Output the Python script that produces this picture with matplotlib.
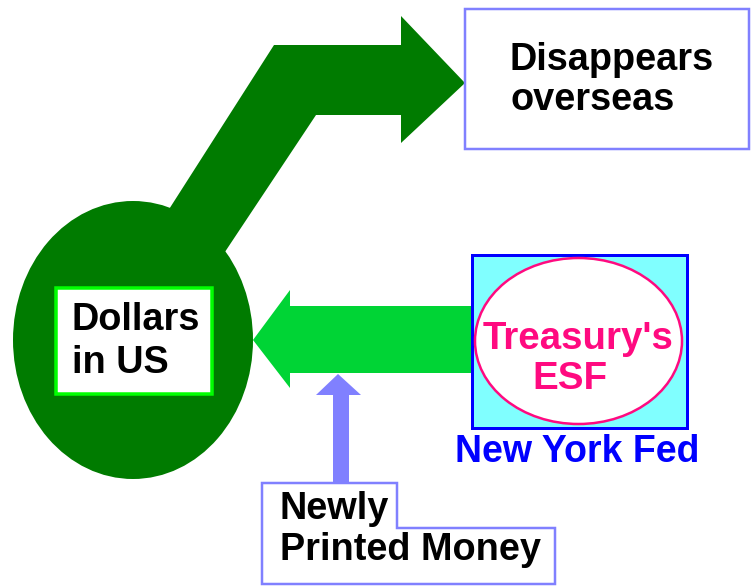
import matplotlib
matplotlib.use("Agg")
import matplotlib.pyplot as plt
from matplotlib.patches import Polygon, Ellipse, Rectangle

# ---- diagram geometry (pixel coordinates, y grows downward) ----
big_arrow = [(111, 300), (274, 45), (401, 45), (401, 16), (465, 83),
             (401, 143), (401, 115), (316, 115), (193, 300)]
us_ellipse = (133, 340, 240, 278)          # cx, cy, width, height
green_arrow = [(253, 340), (290, 290), (290, 306), (474, 306),
               (474, 373), (290, 373), (290, 388)]
blue_arrow = [(338, 374), (361, 395), (349, 395), (349, 483),
              (333, 483), (333, 395), (316, 395)]
fed_box = (472, 255, 215, 173)             # x, y, w, h
esf_ellipse = (578.5, 341, 207, 166)
dollars_box = (56, 288, 156, 106)
overseas_box = (465, 9, 284, 140)
money_box = [(262, 483), (397, 483), (397, 528), (555, 528),
             (555, 584), (262, 584)]

# ---- labels ----
dollars_lines = ["Dollars", "in US"]
overseas_lines = ["Disappears", "overseas"]
esf_lines = ["Treasury's", "ESF"]
fed_label = "New York Fed"
money_lines = ["Newly", "Printed Money"]

W, H = 751, 586
fig = plt.figure(figsize=(W / 100, H / 100), dpi=100)
ax = fig.add_axes([0, 0, 1, 1])
ax.set_xlim(0, W)
ax.set_ylim(H, 0)
ax.axis("off")

px = 0.72  # points per pixel
FONT = "Liberation Sans"

ax.add_patch(Polygon(big_arrow, closed=True, facecolor="#007b00", edgecolor="none", zorder=1))
cx, cy, ew, eh = us_ellipse
ax.add_patch(Ellipse((cx, cy), ew, eh, facecolor="#007b00", edgecolor="none", zorder=1))

ax.add_patch(Polygon(green_arrow, closed=True, facecolor="#00d435", edgecolor="none", zorder=2))
ax.add_patch(Polygon(blue_arrow, closed=True, facecolor="#8080ff", edgecolor="none", zorder=2))

x, y, w, h = fed_box
ax.add_patch(Rectangle((x, y), w, h, facecolor="#80ffff", edgecolor="#0000ff",
                       linewidth=3 * px, zorder=3))
cx, cy, ew, eh = esf_ellipse
ax.add_patch(Ellipse((cx, cy), ew, eh, facecolor="white", edgecolor="#ff0a80",
                     linewidth=2.5 * px, zorder=4))

x, y, w, h = dollars_box
ax.add_patch(Rectangle((x, y), w, h, facecolor="white", edgecolor="#00ff00",
                       linewidth=3.5 * px, zorder=3))
x, y, w, h = overseas_box
ax.add_patch(Rectangle((x, y), w, h, facecolor="white", edgecolor="#8080ff",
                       linewidth=2.5 * px, zorder=3))
ax.add_patch(Polygon(money_box, closed=True, facecolor="white", edgecolor="#8080ff",
                     linewidth=2.5 * px, zorder=3))

def label(x, y, s, color="black", size=27.3):
    ax.text(x, y, s, ha="left", va="baseline", fontsize=size, fontweight="bold",
            family=FONT, color=color, zorder=6)

label(72, 330, dollars_lines[0])
label(72, 373, dollars_lines[1])
label(510, 70, overseas_lines[0])
label(510, 110, overseas_lines[1])
label(483, 349, esf_lines[0], color="#ff0a80", size=27.7)
label(532, 389, esf_lines[1], color="#ff0a80", size=27.7)
label(455, 462, fed_label, color="#0000ff", size=27)
label(280, 519, money_lines[0])
label(280, 560, money_lines[1])

fig.savefig("out.png", dpi=100)
